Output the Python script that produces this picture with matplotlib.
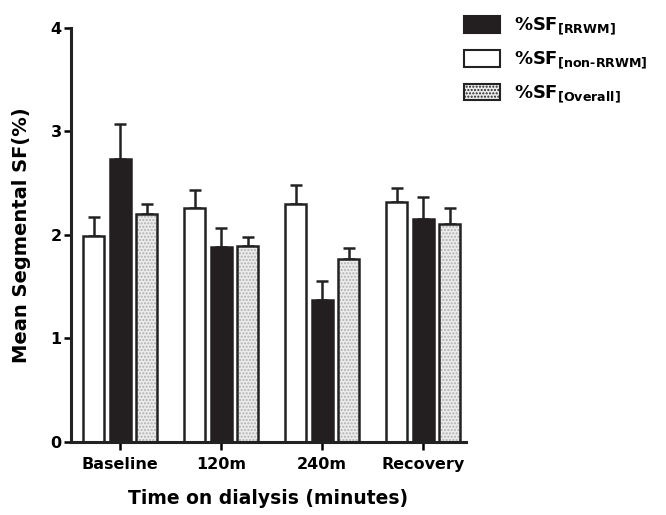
import matplotlib.pyplot as plt
import numpy as np
from matplotlib.patches import Patch

plt.rcParams['font.family'] = ['DejaVu Sans']
plt.rcParams['font.weight'] = 'bold'
plt.rcParams['mathtext.fontset'] = 'custom'
plt.rcParams['mathtext.bf'] = 'DejaVu Sans:bold'
plt.rcParams['mathtext.rm'] = 'DejaVu Sans:bold'
plt.rcParams['mathtext.default'] = 'bf'

# Data
groups = ['Baseline', '120m', '240m', 'Recovery']
non_rrwm = [1.99, 2.26, 2.30, 2.32]
non_rrwm_err = [0.18, 0.17, 0.18, 0.13]
rrwm = [2.73, 1.88, 1.37, 2.15]
rrwm_err = [0.34, 0.19, 0.18, 0.22]
overall = [2.20, 1.89, 1.77, 2.10]
overall_err = [0.10, 0.09, 0.10, 0.16]

x = np.arange(len(groups))
w = 0.21
step = 0.262

fig = plt.figure(figsize=(6.66, 5.15), dpi=100)
ax = fig.add_axes([0.107, 0.142, 0.592, 0.804])

err_kw = dict(fmt='none', ecolor='#222222', elinewidth=1.8, capsize=4, capthick=1.8)

# white bars (non-RRWM)
ax.bar(x - step, non_rrwm, w, color='white', edgecolor='#222222', linewidth=1.8, zorder=2)
ax.errorbar(x - step, non_rrwm, yerr=[np.zeros(4), non_rrwm_err], zorder=1, **err_kw)

# black bars (RRWM)
ax.bar(x, rrwm, w, color='#231f20', edgecolor='#231f20', linewidth=1.8, zorder=2)
ax.errorbar(x, rrwm, yerr=[np.zeros(4), rrwm_err], zorder=1, **err_kw)

# dotted bars (overall): hatch layer then outline
ax.bar(x + step, overall, w, color='#ececec', edgecolor='#b0b0b0', hatch='.....', linewidth=0, zorder=2)
ax.bar(x + step, overall, w, fill=False, edgecolor='#222222', linewidth=1.8, zorder=3)
ax.errorbar(x + step, overall, yerr=[np.zeros(4), overall_err], zorder=1, **err_kw)

ax.set_xlim(-0.485, 3.42)
ax.set_ylim(0, 4)
ax.set_yticks([0, 1, 2, 3, 4])
ax.set_xticks(x)
ax.set_xticklabels(groups, fontsize=11.5, fontweight='bold')
ax.tick_params(axis='y', labelsize=11.5, width=1.8, length=5, pad=2)
ax.tick_params(axis='x', width=1.8, length=6, pad=5)
for s in ['top', 'right']:
    ax.spines[s].set_visible(False)
for s in ['left', 'bottom']:
    ax.spines[s].set_linewidth(2.2)
    ax.spines[s].set_color('#222222')

ax.set_xlabel('Time on dialysis (minutes)', fontsize=13.5, fontweight='bold', labelpad=12)
ax.set_ylabel('Mean Segmental SF(%)', fontsize=14, fontweight='bold', labelpad=14)

handles = [
    Patch(facecolor='#231f20', edgecolor='#231f20', linewidth=1.5),
    Patch(facecolor='white', edgecolor='#222222', linewidth=1.5),
    Patch(facecolor='#ececec', edgecolor='#222222', hatch='.....', linewidth=1.5),
]
labels = [r'%SF$_{[RRWM]}$', r'%SF$_{[non\text{-}RRWM]}$', r'%SF$_{[Overall]}$']
fig.legend(handles, labels, loc='upper left', bbox_to_anchor=(0.672, 1.0),
           frameon=False, fontsize=13, handlelength=2.0, handleheight=1.05,
           labelspacing=0.7, handletextpad=0.8)

fig.savefig('out.png', dpi=100)
